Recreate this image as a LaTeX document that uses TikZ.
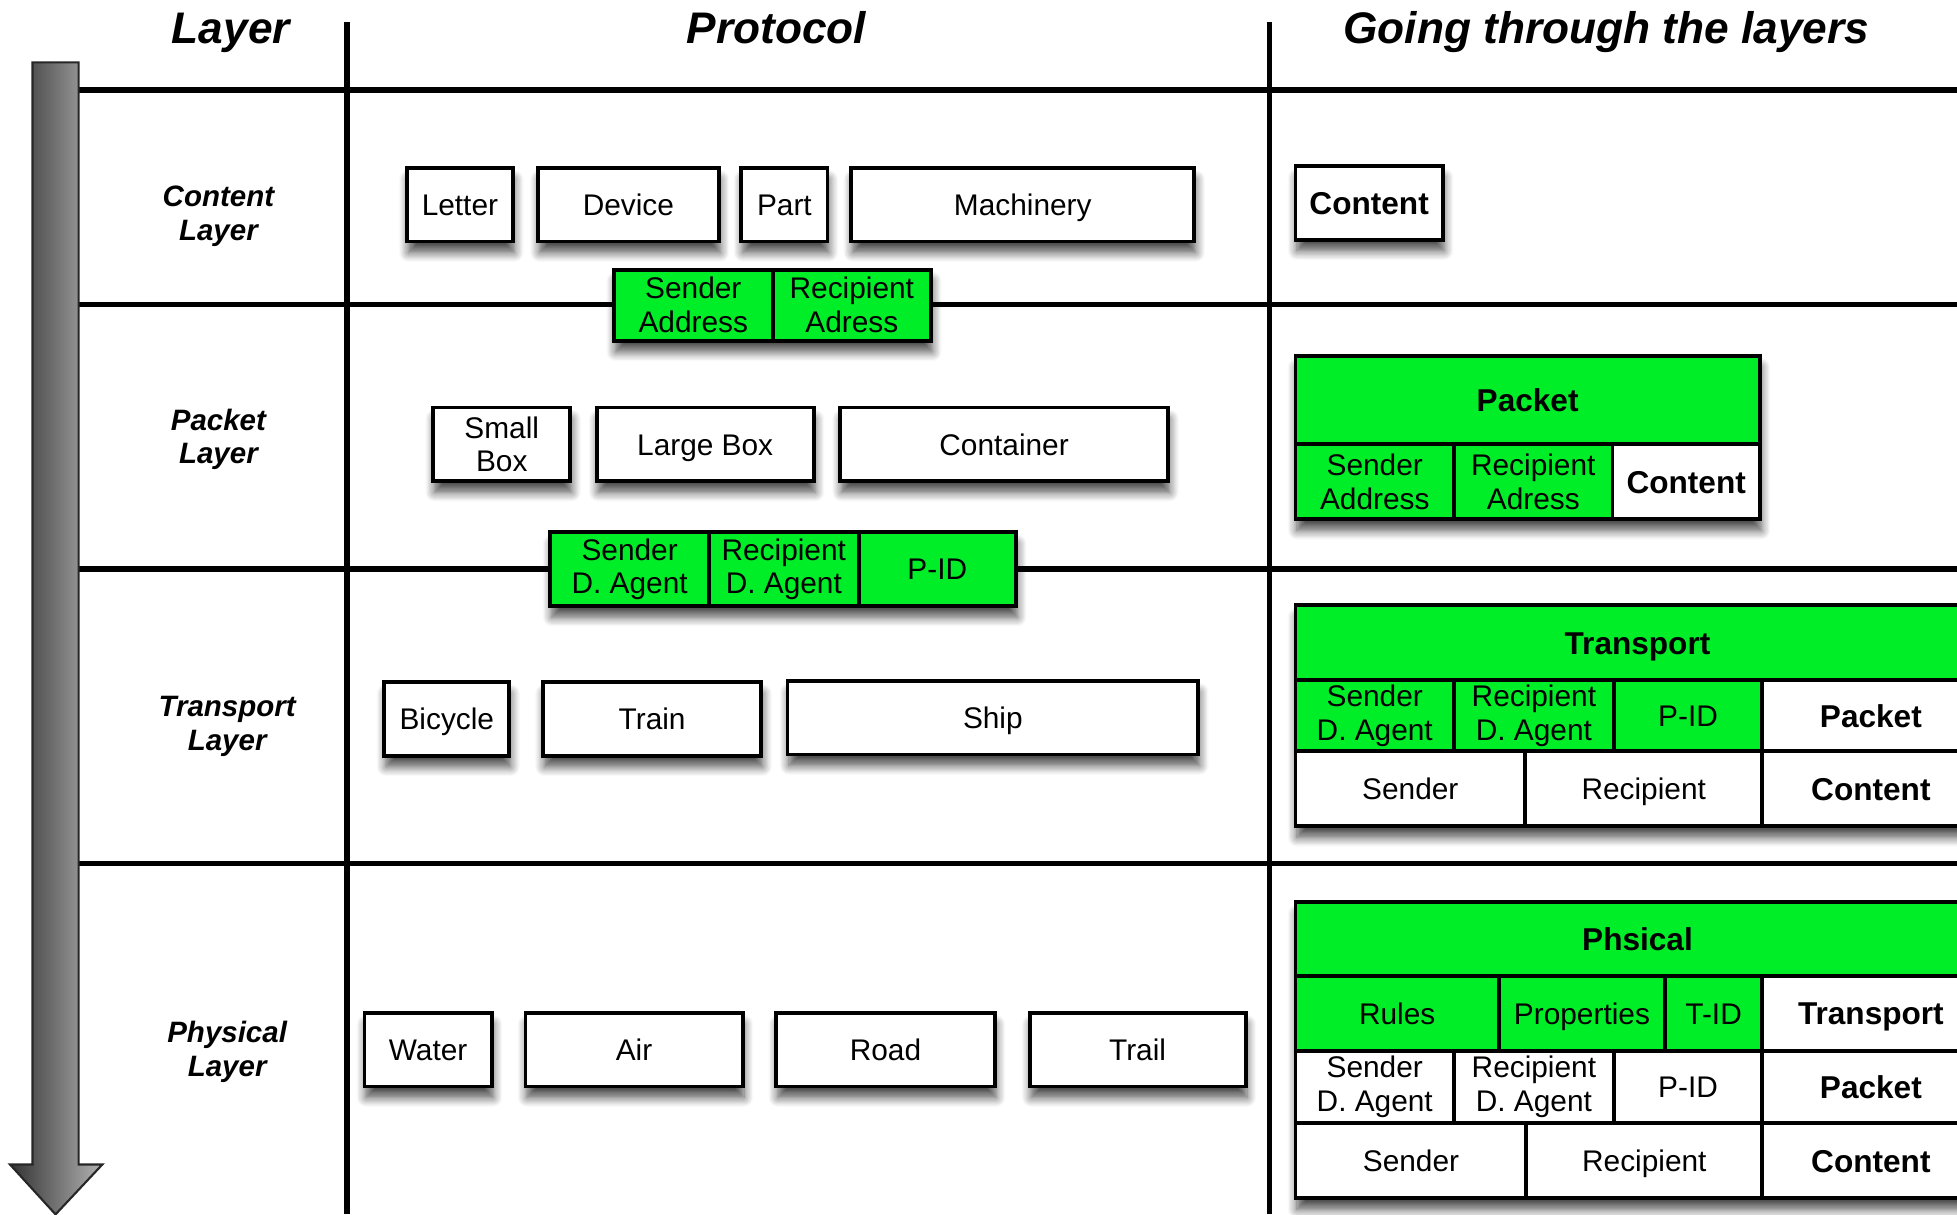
\documentclass[tikz,border=0pt]{standalone}
\usepackage{fontspec}
\setmainfont{Liberation Sans}
\usepackage{tikz}
\usetikzlibrary{arrows,fit,positioning,calc,shadows,shadows.blur,backgrounds}

\definecolor{layergreen}{RGB}{0,238,40}

\begin{document}
\begin{tikzpicture}[x=0.0125cm, y=-0.0125cm,
  bw/.style={minimum width=#1*0.0125cm},
  bh/.style={minimum height=#1*0.0125cm},
  grid/.style={line width=1.6pt},
  head/.style={font=\fontsize{12.6}{14}\selectfont\bfseries\itshape, text height=9.2pt, text depth=2.7pt},
  layer/.style={align=center, font=\fontsize{8.4}{9.6}\selectfont\bfseries\itshape},
  boxshadow/.style={blur shadow={shadow xshift=0.4pt, shadow yshift=-3.2pt, shadow blur radius=2.6pt, shadow blur steps=8, shadow opacity=70}},
  cell/.style={draw, line width=1.1pt, fill=white, inner sep=0pt, outer sep=0pt, bh=59, align=center,
    font=\fontsize{8.5}{9.6}\selectfont},
  one/.style={text height=6.1pt, text depth=0pt},
  gcell/.style={cell, fill=layergreen},
  bcell/.style={cell, font=\fontsize{9}{10}\selectfont\bfseries, text height=6.5pt, text depth=0pt},
  gbcell/.style={gcell, font=\fontsize{9}{10}\selectfont\bfseries, text height=6.5pt, text depth=0pt},
  box/.style={cell, boxshadow},
  group/.style={inner sep=0pt, boxshadow}]

 \useasboundingbox (0,0) rectangle (1568,973);

 % headings and table lines
 \node[head] (hlayer) at (185,26) {Layer};
 \node[head] (hproto) at (622,26) {Protocol};
 \node[head] (hgoing) at (1287,26) {Going through the layers};

 \draw[grid] (278,18) -- (278,973);
 \draw[grid] (1017,18) -- (1017,973);
 \foreach \y in {72,244,456,692}
  \draw[grid] (62,\y) -- (1568,\y);

 \shade[left color=black!80, right color=black!30, draw=black!85, line width=0.6pt]
  (26,50) -- (63,50) -- (63,933) -- (82,933) -- (44.5,973) -- (8,933) -- (26,933) -- cycle;

 \node[layer] (lcontent) at (175,173) {Content\\Layer};
 \node[layer] (lpacket) at (175,352) {Packet\\Layer};
 \node[layer] (ltransport) at (182,582) {Transport\\Layer};
 \node[layer] (lphysical) at (182,843) {Physical\\Layer};

 % protocol column
 \node[box, one, bw=85, anchor=west] (letter) at (326,164) {Letter};
 \node[box, one, bw=145, anchor=west] (device) at (431,164) {Device};
 \node[box, one, bw=69, anchor=west] (part) at (594,164) {Part};
 \node[box, one, bw=275, anchor=west] (machinery) at (682,164) {Machinery};

 \node[gcell, bw=127, bh=57, anchor=west] (sndaddr) at (492,244.5) {Sender\\Address};
 \node[gcell, bw=127, bh=57, right=0pt of sndaddr] (rcpaddr) {Recipient\\Adress};

 \node[box, bw=110, anchor=west] (smallbox) at (347,356) {Small\\Box};
 \node[box, one, bw=174, anchor=west] (largebox) at (478,356) {Large Box};
 \node[box, one, bw=263, anchor=west] (container) at (673,356) {Container};

 \node[gcell, bw=127, anchor=west] (sndagent) at (441,456) {Sender\\D. Agent};
 \node[gcell, bw=120, right=0pt of sndagent] (rcpagent) {Recipient\\D. Agent};
 \node[gcell, one, bw=126, right=0pt of rcpagent] (pid) {P-ID};

 \node[box, one, bw=100, anchor=west] (bicycle) at (308,576) {Bicycle};
 \node[box, one, bw=175, anchor=west] (train) at (435,576) {Train};
 \node[box, one, bw=329, anchor=west] (ship) at (631,575) {Ship};

 \node[box, one, bw=102, anchor=west] (water) at (292,841) {Water};
 \node[box, one, bw=174, anchor=west] (air) at (421,841) {Air};
 \node[box, one, bw=175, anchor=west] (road) at (622,841) {Road};
 \node[box, one, bw=173, anchor=west] (trail) at (825,841) {Trail};

 % going through the layers
 \node[bcell, boxshadow, bw=118, anchor=north west] (content) at (1038,133) {Content};

 \node[gbcell, bw=372, bh=71, anchor=north west] (pkhead) at (1038,285) {Packet};
 \node[gcell, bw=127, bh=60, anchor=north west] (pksnd) at (pkhead.south west) {Sender\\Address};
 \node[gcell, bw=127, bh=60, right=0pt of pksnd] (pkrcp) {Recipient\\Adress};
 \node[bcell, bw=118, bh=60, right=0pt of pkrcp] (pkcontent) {Content};

 \node[gbcell, bw=548, bh=60, anchor=north west] (trhead) at (1038,485) {Transport};
 \node[gcell, bw=127, bh=57, anchor=north west] (trsnd) at (trhead.south west) {Sender\\D. Agent};
 \node[gcell, bw=128, bh=57, right=0pt of trsnd] (trrcp) {Recipient\\D. Agent};
 \node[gcell, one, bw=119, bh=57, right=0pt of trrcp] (trpid) {P-ID};
 \node[bcell, bw=174, bh=57, right=0pt of trpid] (trpacket) {Packet};
 \node[cell, one, bw=184, bh=60, anchor=north west] (trsender) at (trsnd.south west) {Sender};
 \node[cell, one, bw=190, bh=60, right=0pt of trsender] (trrecip) {Recipient};
 \node[bcell, bw=174, bh=60, right=0pt of trrecip] (trcontent) {Content};

 \node[gbcell, bw=548, bh=59, anchor=north west] (phhead) at (1038,723) {Phsical};
 \node[gcell, one, bw=163, bh=60, anchor=north west] (phrules) at (phhead.south west) {Rules};
 \node[gcell, one, bw=133, bh=60, right=0pt of phrules] (phprop) {Properties};
 \node[gcell, one, bw=78, bh=60, right=0pt of phprop] (phtid) {T-ID};
 \node[bcell, bw=174, bh=60, right=0pt of phtid] (phtransport) {Transport};
 \node[cell, bw=127, bh=58, anchor=north west] (phsnd) at (phrules.south west) {Sender\\D. Agent};
 \node[cell, bw=128, bh=58, right=0pt of phsnd] (phrcp) {Recipient\\D. Agent};
 \node[cell, one, bw=119, bh=58, right=0pt of phrcp] (phpid) {P-ID};
 \node[bcell, bw=174, bh=58, right=0pt of phpid] (phpacket) {Packet};
 \node[cell, one, bw=185, bh=60, anchor=north west] (phsender) at (phsnd.south west) {Sender};
 \node[cell, one, bw=189, bh=60, right=0pt of phsender] (phrecip) {Recipient};
 \node[bcell, bw=174, bh=60, right=0pt of phrecip] (phcontent) {Content};

 \begin{pgfonlayer}{background}
  \node[group, fit=(sndaddr) (rcpaddr)] {};
  \node[group, fit=(sndagent) (pid)] {};
  \node[group, fit=(pkhead) (pksnd) (pkcontent)] {};
  \node[group, fit=(trhead) (trsender) (trcontent)] {};
  \node[group, fit=(phhead) (phsender) (phcontent)] {};
 \end{pgfonlayer}

\end{tikzpicture}
\end{document}
